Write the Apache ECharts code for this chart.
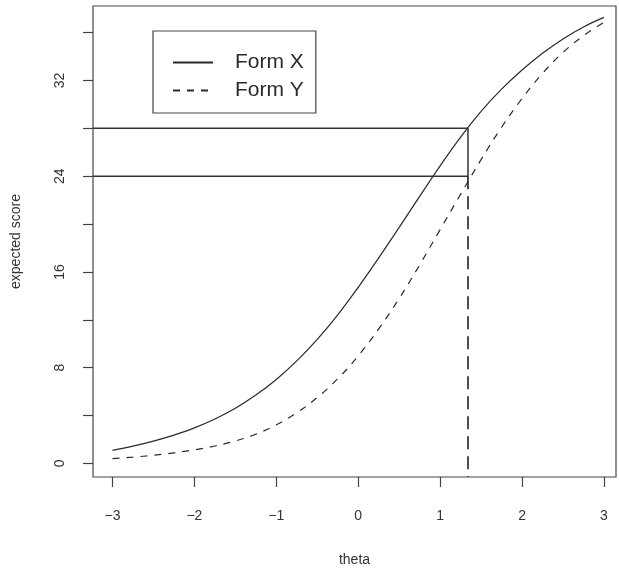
<!DOCTYPE html>
<html>
<head>
<meta charset="utf-8">
<script src="https://cdn.jsdelivr.net/npm/echarts@6/dist/echarts.min.js"></script>
<style>html,body{margin:0;padding:0;background:#fff}#c{width:619px;height:572px}</style>
</head>
<body>
<div id="c"></div>
<script>
// ---- data ----
const theta = [-3, -2.75, -2.5, -2.25, -2, -1.75, -1.5, -1.25, -1, -0.75, -0.5, -0.25, 0, 0.25, 0.5, 0.75, 1, 1.25, 1.5, 1.75, 2, 2.25, 2.5, 2.75, 3];
const formX = [1.1, 1.45, 1.87, 2.37, 2.97, 3.72, 4.62, 5.72, 7.02, 8.57, 10.37, 12.42, 14.72, 17.17, 19.72, 22.32, 24.87, 27.27, 29.42, 31.27, 32.87, 34.27, 35.47, 36.47, 37.27];
const formY = [0.4, 0.53, 0.69, 0.89, 1.14, 1.46, 1.88, 2.44, 3.23, 4.24, 5.51, 7.08, 8.99, 11.24, 13.79, 16.59, 19.54, 22.49, 25.39, 28.09, 30.49, 32.59, 34.34, 35.74, 36.84];
const seriesNames = ['Form X', 'Form Y'];
const eqTheta = 1.34;      // theta where Form X score = 28
const scoreX = 28;         // Form X score
const scoreY = 24;         // equated Form Y score
const xTicks = [-3, -2, -1, 0, 1, 2, 3];
const yTicks = [0, 4, 8, 12, 16, 20, 24, 28, 32, 36];
const yLabels = [0, 8, 16, 24, 32];
const xMin = -3.238, xMax = 3.147, yMin = -1.13, yMax = 38.22;

const zip = (a, b) => a.map((v, i) => [v, b[i]]);
const ink = '#2a2a2a';
const font = 'Liberation Sans, Arial, Helvetica, sans-serif';

const chart = echarts.init(document.getElementById('c'), null, {renderer: 'canvas'});
chart.setOption({
  animation: false,
  backgroundColor: '#fff',
  grid: {left: 93, right: 3, top: 6, bottom: 95, show: true, borderColor: '#444', borderWidth: 1.2, backgroundColor: 'transparent'},
  xAxis: {
    type: 'value', min: xMin, max: xMax,
    name: 'theta', nameLocation: 'middle', nameGap: 76,
    nameTextStyle: {fontFamily: font, fontSize: 14, color: '#333'},
    axisLine: {show: false, onZero: false},
    splitLine: {show: false},
    axisTick: {show: true, inside: false, length: 10, customValues: xTicks, lineStyle: {color: '#444', width: 1.2}},
    axisLabel: {customValues: xTicks, margin: 32, fontFamily: font, fontSize: 14, color: '#333',
      formatter: v => (v < 0 ? '\u2212' + Math.abs(v) : String(v))}
  },
  yAxis: {
    type: 'value', min: yMin, max: yMax,
    name: 'expected score', nameLocation: 'middle', nameGap: 70,
    nameTextStyle: {fontFamily: font, fontSize: 14, color: '#333'},
    axisLine: {show: false, onZero: false},
    splitLine: {show: false},
    axisTick: {show: true, inside: false, length: 10, customValues: yTicks, lineStyle: {color: '#444', width: 1.2}},
    axisLabel: {customValues: yLabels, rotate: 90, margin: 26, fontFamily: font, fontSize: 14, color: '#333'}
  },
  legend: {
    show: true, orient: 'vertical', left: 153, top: 31,
    data: seriesNames,
    borderColor: '#444', borderWidth: 1.2, borderRadius: 0,
    padding: [21, 12, 12, 19], itemGap: 7,
    itemWidth: 40, itemHeight: 14,
    itemStyle: {opacity: 0, color: 'rgba(0,0,0,0)', borderWidth: 0},
    textStyle: {fontFamily: font, fontSize: 21, color: '#2a2a2a', padding: [0, 0, 0, 17]}
  },
  series: [
    {name: seriesNames[0], type: 'line', data: zip(theta, formX), smooth: 0.4, symbol: 'none',
      lineStyle: {color: ink, width: 1.2, type: 'solid'}, itemStyle: {color: ink}},
    {name: seriesNames[1], type: 'line', data: zip(theta, formY), smooth: 0.4, symbol: 'none',
      lineStyle: {color: ink, width: 1.2, type: [7, 7]}, itemStyle: {color: ink}},
    {name: 'box', type: 'line', symbol: 'none', silent: true,
      data: [[xMin, scoreX], [eqTheta, scoreX], [eqTheta, scoreY], [xMin, scoreY]],
      lineStyle: {color: '#333', width: 1.5}},
    {name: 'drop', type: 'line', symbol: 'none', silent: true,
      data: [[eqTheta, scoreY], [eqTheta, yMin]],
      lineStyle: {color: '#222', width: 1.6, type: [13, 7]}}
  ]
});
</script>
</body>
</html>
